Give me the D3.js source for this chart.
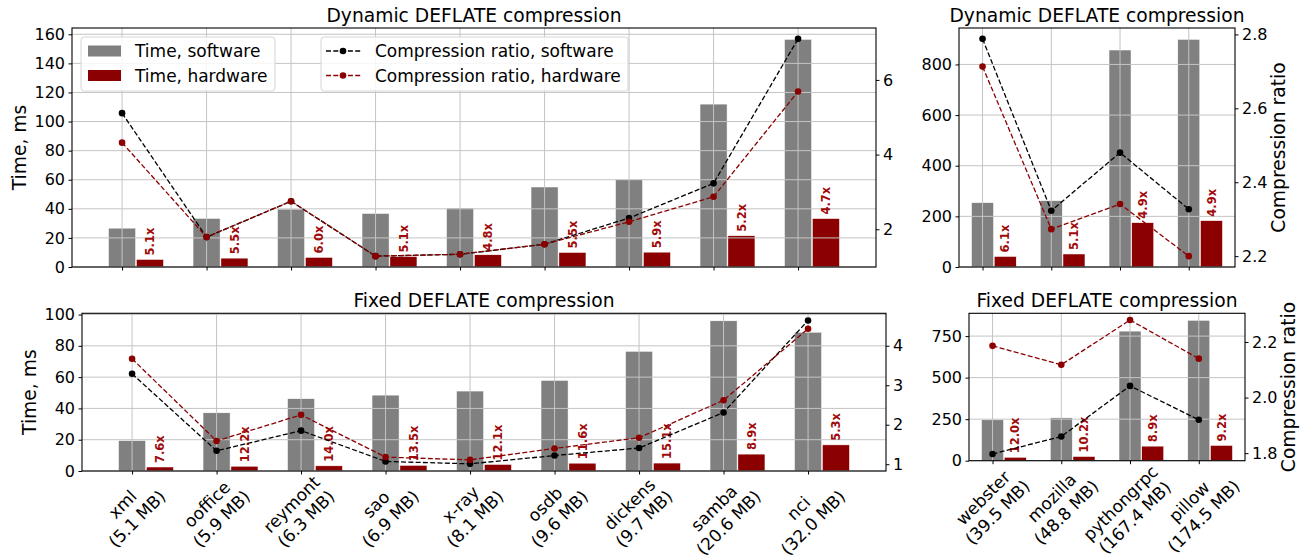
<!DOCTYPE html>
<html><head><meta charset="utf-8">
<script src="https://cdn.jsdelivr.net/npm/d3@7"></script>
<style>
body{margin:0;background:#fff}
svg{display:block}
text{font-family:"DejaVu Sans",sans-serif;fill:#000}
</style>
</head><body>
<svg id="c" width="1304" height="556"></svg>
<script>
// ---------- data ----------
const smallCats  = ["xml","ooffice","reymont","sao","x-ray","osdb","dickens","samba","nci"];
const smallSizes = ["5.1 MB","5.9 MB","6.3 MB","6.9 MB","8.1 MB","9.6 MB","9.7 MB","20.6 MB","32.0 MB"];
const largeCats  = ["webster","mozilla","pythongrpc","pillow"];
const largeSizes = ["39.5 MB","48.8 MB","167.4 MB","174.5 MB"];

// Dynamic DEFLATE, small files
const dynSwTimeSmall  = [26.7, 33.4, 39.8, 36.8, 40.5, 55.0, 60.0, 112.0, 156.5];
const dynHwTimeSmall  = [5.2, 6.1, 6.6, 7.2, 8.4, 10.0, 10.2, 21.5, 33.3];
const dynSpeedupSmall = [5.1, 5.5, 6.0, 5.1, 4.8, 5.5, 5.9, 5.2, 4.7];
const dynSwRatioSmall = [5.11, 1.79, 2.75, 1.28, 1.33, 1.60, 2.30, 3.23, 7.10];
const dynHwRatioSmall = [4.32, 1.79, 2.75, 1.28, 1.33, 1.60, 2.20, 2.87, 5.69];

// Dynamic DEFLATE, large files
const dynSwTimeLarge  = [254, 262, 857, 899];
const dynHwTimeLarge  = [41.6, 51.4, 175, 183];
const dynSpeedupLarge = [6.1, 5.1, 4.9, 4.9];
const dynSwRatioLarge = [2.788, 2.323, 2.480, 2.327];
const dynHwRatioLarge = [2.713, 2.273, 2.341, 2.200];

// Fixed DEFLATE, small files
const fixSwTimeSmall  = [19.4, 37.2, 46.2, 48.5, 51.1, 57.9, 76.5, 96.0, 88.7];
const fixHwTimeSmall  = [2.55, 3.05, 3.3, 3.6, 4.2, 5.0, 5.07, 10.8, 16.7];
const fixSpeedupSmall = [7.6, 12.2, 14.0, 13.5, 12.1, 11.6, 15.1, 8.9, 5.3];
const fixSwRatioSmall = [3.29, 1.34, 1.85, 1.07, 1.01, 1.22, 1.41, 2.31, 4.64];
const fixHwRatioSmall = [3.67, 1.59, 2.25, 1.18, 1.11, 1.40, 1.67, 2.62, 4.43];

// Fixed DEFLATE, large files
const fixSwTimeLarge  = [246, 258, 780, 845];
const fixHwTimeLarge  = [20.5, 25.3, 87.6, 91.8];
const fixSpeedupLarge = [12.0, 10.2, 8.9, 9.2];
const fixSwRatioLarge = [1.797, 1.860, 2.042, 1.920];
const fixHwRatioLarge = [2.186, 2.118, 2.279, 2.140];

// tick values
const dynSmallLeftTicks  = [0,20,40,60,80,100,120,140,160];
const dynSmallRightTicks = [2,4,6];
const dynLargeLeftTicks  = [0,200,400,600,800];
const dynLargeRightTicks = [2.2,2.4,2.6,2.8];
const fixSmallLeftTicks  = [0,20,40,60,80,100];
const fixSmallRightTicks = [1,2,3,4];
const fixLargeLeftTicks  = [0,250,500,750];
const fixLargeRightTicks = [1.8,2.0,2.2];

const titleDyn = "Dynamic DEFLATE compression";
const titleFix = "Fixed DEFLATE compression";
const legendBars  = ["Time, software","Time, hardware"];
const legendLines = ["Compression ratio, software","Compression ratio, hardware"];

// ---------- drawing ----------
const SW_COL = "#808080", HW_COL = "#8b0000", ANN_COL = "#a00a0a", GRID = "#c4c4c4";
const BAR_W = 0.32, HW_OFF = 0.33;
const svg = d3.select("#c");

function panel(o){
  const n = o.cats.length;
  const lo = -BAR_W/2, hi = n-1+HW_OFF+BAR_W/2, m = 0.05*(hi-lo);
  const x = d3.scaleLinear().domain([lo-m, hi+m]).range([o.x0, o.x1]);
  const yMax = d3.max(o.sw.concat(o.hw))*1.05;
  const y = d3.scaleLinear().domain([0,yMax]).range([o.y1,o.y0]);
  const rAll = o.swR.concat(o.hwR);
  const rmin = d3.min(rAll), rmax = d3.max(rAll), rm = 0.05*(rmax-rmin);
  const y2 = d3.scaleLinear().domain([rmin-rm, rmax+rm]).range([o.y1,o.y0]);
  const g = svg.append("g");
  const bw = x(BAR_W)-x(0);

  // bars
  g.append("g").selectAll("rect").data(o.sw).join("rect")
    .attr("x",(d,i)=>x(i-BAR_W/2)).attr("y",d=>y(d))
    .attr("width",bw).attr("height",d=>y(0)-y(d))
    .attr("fill",SW_COL).attr("stroke","#fff").attr("stroke-width",0.5);
  g.append("g").selectAll("rect").data(o.hw).join("rect")
    .attr("x",(d,i)=>x(i+HW_OFF-BAR_W/2)).attr("y",d=>y(d))
    .attr("width",bw).attr("height",d=>y(0)-y(d))
    .attr("fill",HW_COL).attr("stroke","#fff").attr("stroke-width",0.5);

  // grid (drawn above bars, like matplotlib default)
  const grid = g.append("g").attr("stroke",GRID).attr("stroke-width",1);
  grid.selectAll(".v").data(d3.range(n)).join("line")
    .attr("x1",i=>x(i)).attr("x2",i=>x(i)).attr("y1",o.y0).attr("y2",o.y1);
  grid.selectAll(".h").data(o.leftTicks).join("line")
    .attr("x1",o.x0).attr("x2",o.x1).attr("y1",d=>y(d)).attr("y2",d=>y(d));

  // speed-up annotations
  g.append("g").selectAll("text").data(o.speedup).join("text")
    .attr("transform",(d,i)=>`translate(${x(i+HW_OFF)},${y(o.hw[i])-4}) rotate(-90)`)
    .attr("dy","0.36em")
    .attr("font-size",11.5).attr("font-weight","bold")
    .style("fill",ANN_COL)
    .text(d=>d.toFixed(1)+"x");

  // axes
  const styleAxis = a => {
    a.select(".domain").remove();
    a.selectAll("text").attr("font-size",16).attr("font-family","DejaVu Sans").style("fill","#000");
    a.selectAll("line").attr("stroke","#000");
  };
  g.append("g").attr("transform",`translate(${o.x0},0)`)
    .call(d3.axisLeft(y).tickValues(o.leftTicks).tickSize(3.5).tickPadding(3.5).tickSizeOuter(0))
    .call(styleAxis);
  g.append("g").attr("transform",`translate(${o.x1},0)`)
    .call(d3.axisRight(y2).tickValues(o.rightTicks).tickSize(3.5).tickPadding(3.5).tickSizeOuter(0)
      .tickFormat(o.rightFmt))
    .call(styleAxis);
  g.append("g").attr("transform",`translate(0,${o.y1})`)
    .call(d3.axisBottom(x).tickValues(d3.range(n)).tickSize(3.5).tickFormat("").tickSizeOuter(0))
    .call(styleAxis);

  // frame
  g.append("rect").attr("x",o.x0).attr("y",o.y0).attr("width",o.x1-o.x0).attr("height",o.y1-o.y0)
    .attr("fill","none").attr("stroke","#000").attr("stroke-width",1.1);

  // x labels (rotated 45°, centred like matplotlib)
  if (o.sizes){
    const fs = 17, lh = fs*1.2;
    const lg = g.append("g");
    o.cats.forEach((c,i)=>{
      const t = lg.append("text").attr("font-size",fs).attr("text-anchor","middle");
      const l1 = t.append("tspan").attr("x",0).attr("y",0).text(c);
      const l2 = t.append("tspan").attr("x",0).attr("y",lh).text("("+o.sizes[i]+")");
      const w = Math.max(l1.node().getComputedTextLength(), l2.node().getComputedTextLength());
      const h = 2*lh;
      const s = Math.SQRT1_2;
      const bcy = -0.76*fs + h/2;
      const side = (w+h)*s;
      const cx = x(i), cy = o.y1 + 3 + side/2;
      t.attr("transform",`translate(${cx},${cy}) rotate(-45) translate(0,${-bcy})`);
    });
  }

  // title and axis labels
  g.append("text").attr("x",(o.x0+o.x1)/2).attr("y",o.y0-6).attr("text-anchor","middle")
    .attr("font-size",18.7).text(o.title);
  if (o.leftLabel) g.append("text").attr("transform",`translate(${o.x0-46},${(o.y0+o.y1)/2}) rotate(-90)`)
    .attr("text-anchor","middle").attr("font-size",18.7).text(o.leftLabel);
  if (o.rightLabel) g.append("text").attr("transform",`translate(${o.x1+50},${(o.y0+o.y1)/2}) rotate(-90)`)
    .attr("text-anchor","middle").attr("font-size",18.7).text(o.rightLabel);

  // ratio lines
  const line = d3.line().x((d,i)=>x(i)).y(d=>y2(d));
  [[o.swR,"#000"],[o.hwR,HW_COL]].forEach(([arr,col])=>{
    g.append("path").datum(arr).attr("d",line).attr("fill","none")
      .attr("stroke",col).attr("stroke-width",1.3).attr("stroke-dasharray","5,2.3");
    g.append("g").selectAll("circle").data(arr).join("circle")
      .attr("cx",(d,i)=>x(i)).attr("cy",d=>y2(d)).attr("r",3.3).attr("fill",col);
  });

  // legends
  if (o.legend){
    const L = g.append("g");
    L.append("rect").attr("x",81).attr("y",37).attr("width",194).attr("height",54).attr("rx",3)
      .attr("fill","#fff").attr("fill-opacity",0.85).attr("stroke","#d6d6d6");
    [[SW_COL,legendBars[0],51],[HW_COL,legendBars[1],75.5]].forEach(([c,tx,cy])=>{
      L.append("rect").attr("x",88).attr("y",cy-5.5).attr("width",33).attr("height",11).attr("fill",c);
      L.append("text").attr("x",135).attr("y",cy+6).attr("font-size",17).text(tx);
    });
    L.append("rect").attr("x",321).attr("y",37).attr("width",307).attr("height",54).attr("rx",3)
      .attr("fill","#fff").attr("fill-opacity",0.85).attr("stroke","#d6d6d6");
    [["#000",legendLines[0],51],[HW_COL,legendLines[1],75.5]].forEach(([c,tx,cy])=>{
      L.append("line").attr("x1",326).attr("x2",361).attr("y1",cy).attr("y2",cy)
        .attr("stroke",c).attr("stroke-width",1.3).attr("stroke-dasharray","5,2.3");
      L.append("circle").attr("cx",343).attr("cy",cy).attr("r",3.3).attr("fill",c);
      L.append("text").attr("x",375).attr("y",cy+6).attr("font-size",17).text(tx);
    });
  }
}

const f0 = d3.format("d"), f1 = d3.format(".1f");
panel({x0:72,x1:876,y0:28,y1:267,cats:smallCats,sw:dynSwTimeSmall,hw:dynHwTimeSmall,speedup:dynSpeedupSmall,
  swR:dynSwRatioSmall,hwR:dynHwRatioSmall,leftTicks:dynSmallLeftTicks,rightTicks:dynSmallRightTicks,rightFmt:f0,
  title:titleDyn,leftLabel:"Time, ms",legend:true});
panel({x0:959,x1:1235,y0:28,y1:267,cats:largeCats,sw:dynSwTimeLarge,hw:dynHwTimeLarge,speedup:dynSpeedupLarge,
  swR:dynSwRatioLarge,hwR:dynHwRatioLarge,leftTicks:dynLargeLeftTicks,rightTicks:dynLargeRightTicks,rightFmt:f1,
  title:titleDyn,rightLabel:"Compression ratio"});
panel({x0:82,x1:886,y0:313.3,y1:471,cats:smallCats,sizes:smallSizes,sw:fixSwTimeSmall,hw:fixHwTimeSmall,speedup:fixSpeedupSmall,
  swR:fixSwRatioSmall,hwR:fixHwRatioSmall,leftTicks:fixSmallLeftTicks,rightTicks:fixSmallRightTicks,rightFmt:f0,
  title:titleFix,leftLabel:"Time, ms"});
panel({x0:969,x1:1245,y0:313.3,y1:460.7,cats:largeCats,sizes:largeSizes,sw:fixSwTimeLarge,hw:fixHwTimeLarge,speedup:fixSpeedupLarge,
  swR:fixSwRatioLarge,hwR:fixHwRatioLarge,leftTicks:fixLargeLeftTicks,rightTicks:fixLargeRightTicks,rightFmt:f1,
  title:titleFix,rightLabel:"Compression ratio"});
</script>
</body></html>
